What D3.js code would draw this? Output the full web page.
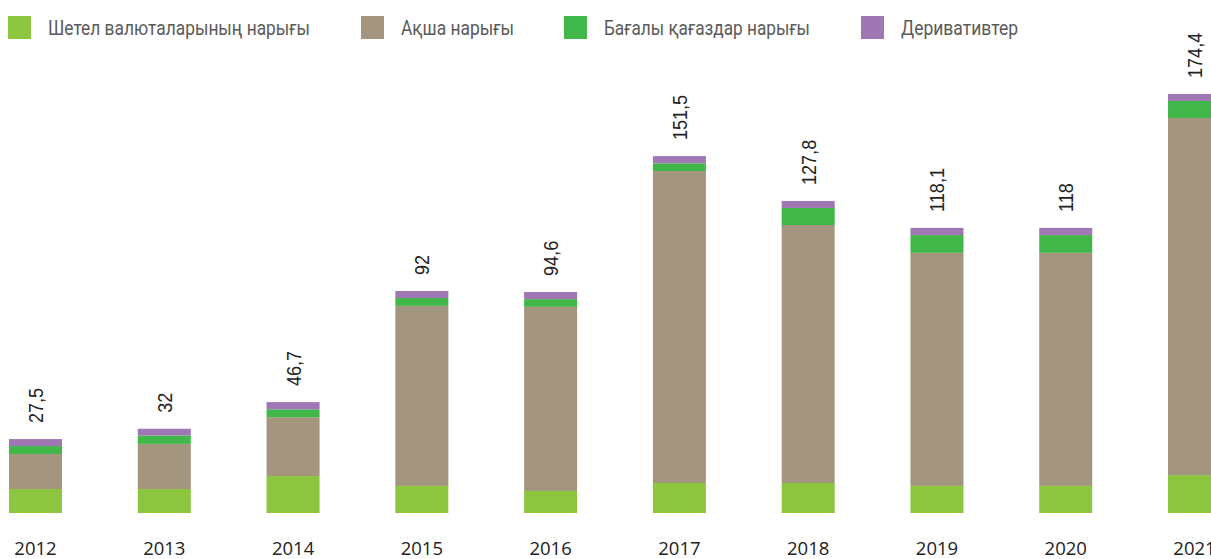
<!DOCTYPE html>
<html>
<head>
<meta charset="utf-8">
<script src="https://cdn.jsdelivr.net/npm/d3@7"></script>
<style>
  html, body { margin: 0; padding: 0; background: #fff; }
  svg { display: block; }
</style>
</head>
<body>
<svg id="chart" width="1211" height="559"></svg>
<script>
// ---- data ----
const years = ["2012","2013","2014","2015","2016","2017","2018","2019","2020","2021"];
const seriesNames = ["Шетел валюталарының нарығы","Ақша нарығы","Бағалы қағаздар нарығы","Деривативтер"];
const foreignExchange = [10.0, 10.0, 15.4, 11.3, 9.2, 12.5, 12.5, 11.3, 11.3, 15.8];
const moneyMarket     = [14.6, 18.8, 24.5, 75.0, 76.7, 130.0, 107.5, 97.1, 97.1, 148.8];
const securities      = [3.3, 3.5, 3.3, 3.3, 3.2, 3.2, 7.1, 7.4, 7.4, 7.1];
const derivatives     = [2.9, 2.8, 3.0, 2.9, 3.0, 3.0, 2.9, 3.0, 3.0, 2.9];
const totalLabels     = ["27,5","32","46,7","92","94,6","151,5","127,8","118,1","118","174,4"];

// ---- styles ----
const colors = ["#8cc63f", "#a4957e", "#41b74a", "#9e77b3"];
const legendX = [8, 361, 564, 861];
const legendTextWidth = [262, 113, 206, 117];

const svg = d3.select("#chart");
const baseY = 513;

const table = years.map((yr, i) => ({
  year: yr,
  s0: foreignExchange[i], s1: moneyMarket[i], s2: securities[i], s3: derivatives[i],
  label: totalLabels[i]
}));
const keys = ["s0","s1","s2","s3"];
const stacked = d3.stack().keys(keys)(table);

const x = d3.scaleBand()
  .domain(years)
  .range([9 - 0.3 * 128.78, 9 - 0.3 * 128.78 + 128.78 * (10 - 0.5884 + 0.6)])
  .paddingInner(0.5884)
  .paddingOuter(0.3);

const y = d3.scaleLinear().domain([0, 180]).range([baseY, baseY - 180 * 2.4]);

// bars
svg.append("g").selectAll("g")
  .data(stacked)
  .join("g")
  .attr("fill", (d, i) => colors[i])
  .selectAll("rect")
  .data(d => d)
  .join("rect")
  .attr("x", d => x(d.data.year))
  .attr("width", x.bandwidth())
  .attr("y", d => y(d[1]))
  .attr("height", d => y(d[0]) - y(d[1]));

// total labels (rotated)
const topLayer = stacked[stacked.length - 1];
svg.append("g").selectAll("text")
  .data(topLayer)
  .join("text")
  .attr("transform", d => `translate(${x(d.data.year) + x.bandwidth() / 2 + 7.5},${y(d[1]) - 16}) rotate(-90) scale(0.86,1)`)
  .attr("text-anchor", "start")
  .style("font-family", "'Liberation Sans Narrow', 'Liberation Sans', Arial, sans-serif")
  .style("font-size", "21px")
  .attr("fill", "#222")
  .text(d => d.data.label);

// year axis
const xAxis = d3.axisBottom(x).tickSize(0).tickPadding(0);
const ax = svg.append("g").attr("transform", `translate(0,${baseY})`).call(xAxis);
ax.select(".domain").remove();
ax.selectAll("text")
  .attr("y", 42)
  .attr("dy", 0)
  .style("font-family", "'Open Sans', sans-serif")
  .style("font-size", "18.5px")
  .attr("fill", "#222");

// legend
const lg = svg.append("g").selectAll("g")
  .data(seriesNames)
  .join("g")
  .attr("transform", (d, i) => `translate(${legendX[i]},16)`);
lg.append("rect").attr("width", 23).attr("height", 23).attr("fill", (d, i) => colors[i]);
lg.append("text")
  .attr("x", 40)
  .attr("y", 19)
  .style("font-family", "'Liberation Sans Narrow', 'Roboto', sans-serif")
  .style("font-size", "21px")
  .attr("fill", "#5a5a5a")
  .attr("textLength", (d, i) => legendTextWidth[i])
  .attr("lengthAdjust", "spacingAndGlyphs")
  .text(d => d);
</script>
</body>
</html>
